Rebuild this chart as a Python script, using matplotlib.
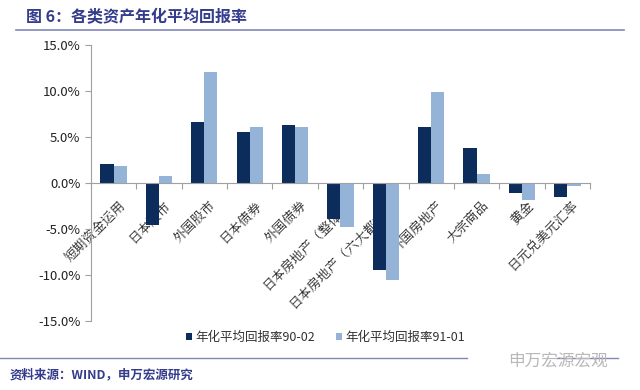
import matplotlib.pyplot as plt
import numpy as np
from matplotlib.ticker import FuncFormatter

plt.rcParams['font.family'] = ['Noto Sans CJK SC', 'DejaVu Sans']

# data (percent)
categories = ["短期资金运用", "日本股市", "外国股市", "日本债券", "外国债券",
              "日本房地产（整体）", "日本房地产（六大都市）", "外国房地产",
              "大宗商品", "黄金", "日元兑美元汇率"]
ret_90_02 = [2.1, -4.6, 6.6, 5.5, 6.3, -3.9, -9.5, 6.1, 3.8, -1.1, -1.5]
ret_91_01 = [1.8, 0.8, 12.1, 6.1, 6.1, -4.8, -10.6, 9.9, 1.0, -1.9, -0.3]
series_names = ["年化平均回报率90-02", "年化平均回报率91-01"]

dark = "#0c2c5c"
light = "#95b3d7"
navy = "#343c8c"

fig = plt.figure(figsize=(6.4, 3.9), dpi=100)
ax = fig.add_axes([0.142, 0.177, 0.78, 0.708])

x = np.arange(len(categories))
w = 0.29
ax.bar(x - w / 2, ret_90_02, w, color=dark, label=series_names[0], zorder=2)
ax.bar(x + w / 2, ret_91_01, w, color=light, label=series_names[1], zorder=2)

ax.set_xlim(-0.5, len(categories) - 0.5)
ax.set_ylim(-15, 15)
ax.set_yticks(np.arange(-15, 16, 5))
ax.yaxis.set_major_formatter(FuncFormatter(lambda v, p: f"{v:.1f}%"))

# category axis sits on the zero line
for s in ["top", "right"]:
    ax.spines[s].set_visible(False)
ax.spines["bottom"].set_position(("data", 0))
ax.spines["bottom"].set_color("#a0a0a0")
ax.spines["left"].set_color("#a0a0a0")

ax.set_xticks(np.arange(len(categories) + 1) - 0.5)
ax.set_xticklabels([])
ax.tick_params(axis="x", direction="out", length=4, color="#a0a0a0")
ax.tick_params(axis="y", direction="out", length=4, color="#a0a0a0",
               labelsize=9.5, labelcolor="#222222")

# labels go behind the bars, like in the original
for i, c in enumerate(categories):
    ax.annotate(c, xy=(i, 0), xytext=(3, -11), textcoords="offset points",
                rotation=45, rotation_mode="anchor", ha="right", va="top",
                fontsize=9.5, color="#222222", zorder=1,
                family=["Noto Serif CJK SC", "Noto Sans CJK SC"])

ax.legend(loc="upper center", bbox_to_anchor=(0.47, 0.005), ncol=2, frameon=False,
          fontsize=9, handlelength=0.5, handleheight=0.5, handletextpad=0.3,
          columnspacing=1.6, labelcolor="#333333")

# title, rules and source
fig.text(0.04, 0.955, "图 6：各类资产年化平均回报率", fontsize=11.5, fontweight="bold",
         color=navy, va="center")
fig.add_artist(plt.Line2D([0.025, 0.975], [0.923, 0.923], color="#8088b8", lw=1.2))
fig.add_artist(plt.Line2D([0.0, 0.73], [0.083, 0.083], color="#8088b8", lw=1.0))
fig.add_artist(plt.Line2D([0.87, 0.965], [0.083, 0.083], color="#8088b8", lw=1.0))
fig.text(0.015, 0.038, "资料来源：WIND，申万宏源研究", fontsize=9, fontweight="bold",
         color=navy, va="center", style="italic")
fig.text(0.95, 0.075, "申万宏源宏观", fontsize=12, color="#b8b8b8", ha="right", va="center")

fig.savefig("out.png", dpi=100)
